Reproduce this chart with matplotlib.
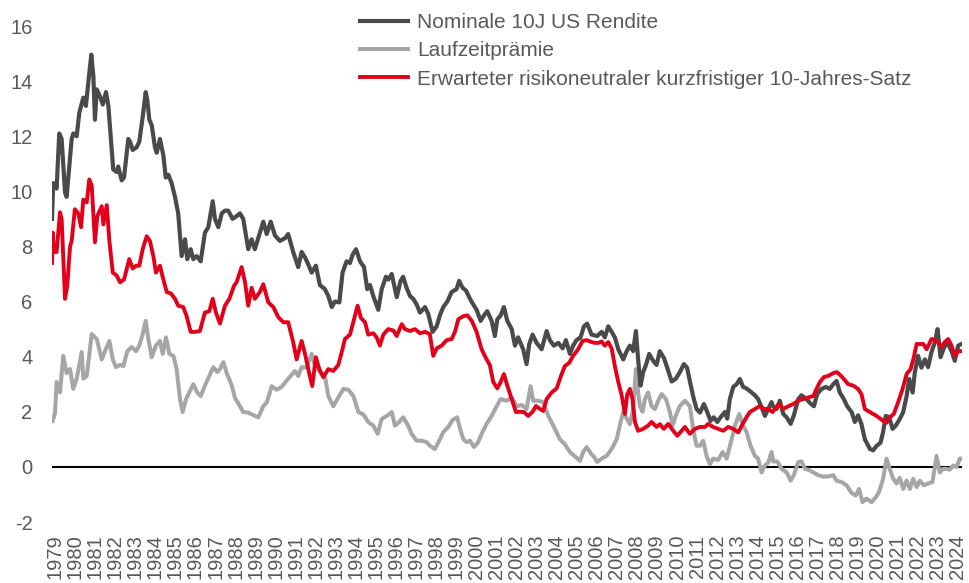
import matplotlib

matplotlib.use("Agg")
import matplotlib.pyplot as plt

plt.rcParams["font.family"] = ["Liberation Sans", "DejaVu Sans"]
plt.rcParams["axes.unicode_minus"] = False

TEXT = "#595959"
C_NOM, C_TP, C_RN = "#4a4a4a", "#a6a6a6", "#e2001a"

# nominal 10y yield (decimal year on the label axis, percent)
nom_t = [1978.85, 1978.91, 1979.08, 1979.21, 1979.33, 1979.50, 1979.58, 1979.83, 1979.91, 1980.08,
         1980.21, 1980.41, 1980.54, 1980.71, 1980.81, 1980.91, 1980.99, 1981.08, 1981.24, 1981.38,
         1981.54, 1981.66, 1981.90, 1982.07, 1982.15, 1982.32, 1982.44, 1982.65, 1982.74, 1982.87,
         1983.07, 1983.20, 1983.37, 1983.52, 1983.60, 1983.70, 1983.82, 1983.98, 1984.07, 1984.23,
         1984.40, 1984.52, 1984.65, 1984.81, 1984.98, 1985.14, 1985.31, 1985.48, 1985.59, 1985.76,
         1985.89, 1986.06, 1986.26, 1986.47, 1986.64, 1986.86, 1986.97, 1987.14, 1987.31, 1987.47,
         1987.63, 1987.85, 1988.05, 1988.22, 1988.38, 1988.63, 1988.80, 1988.96, 1989.21, 1989.38,
         1989.55, 1989.75, 1989.96, 1990.21, 1990.46, 1990.62, 1990.87, 1991.12, 1991.29, 1991.46,
         1991.62, 1991.79, 1992.00, 1992.20, 1992.45, 1992.62, 1992.79, 1992.95, 1993.17, 1993.33,
         1993.53, 1993.70, 1993.83, 1994.00, 1994.20, 1994.40, 1994.56, 1994.70, 1994.86, 1995.11,
         1995.28, 1995.49, 1995.61, 1995.78, 1996.03, 1996.22, 1996.35, 1996.52, 1996.69, 1996.85,
         1997.02, 1997.19, 1997.44, 1997.60, 1997.82, 1998.02, 1998.18, 1998.35, 1998.55, 1998.77,
         1999.01, 1999.14, 1999.31, 1999.48, 1999.68, 1999.84, 2000.01, 2000.21, 2000.38, 2000.54,
         2000.76, 2000.92, 2001.04, 2001.21, 2001.37, 2001.54, 2001.76, 2001.92, 2002.08, 2002.33,
         2002.50, 2002.63, 2002.80, 2003.00, 2003.25, 2003.50, 2003.66, 2003.86, 2004.08, 2004.30,
         2004.46, 2004.66, 2004.82, 2004.99, 2005.19, 2005.36, 2005.52, 2005.74, 2006.02, 2006.24,
         2006.40, 2006.57, 2006.74, 2006.90, 2007.07, 2007.32, 2007.49, 2007.65, 2007.81, 2007.95,
         2008.06, 2008.18, 2008.31, 2008.45, 2008.61, 2008.81, 2008.98, 2009.14, 2009.34, 2009.51,
         2009.73, 2009.94, 2010.14, 2010.34, 2010.50, 2010.64, 2010.80, 2010.97, 2011.14, 2011.34,
         2011.50, 2011.67, 2011.83, 2012.00, 2012.17, 2012.38, 2012.50, 2012.63, 2012.80, 2012.97,
         2013.13, 2013.29, 2013.46, 2013.71, 2013.88, 2014.04, 2014.21, 2014.38, 2014.54, 2014.71,
         2014.79, 2014.96, 2015.12, 2015.29, 2015.46, 2015.66, 2015.82, 2016.04, 2016.20, 2016.45,
         2016.65, 2016.82, 2016.98, 2017.20, 2017.42, 2017.61, 2017.78, 2017.95, 2018.11, 2018.31,
         2018.48, 2018.70, 2018.86, 2019.02, 2019.19, 2019.36, 2019.61, 2019.77, 2019.94, 2020.14,
         2020.27, 2020.40, 2020.57, 2020.74, 2020.90, 2021.10, 2021.27, 2021.44, 2021.57, 2021.74,
         2021.85, 2022.01, 2022.18, 2022.35, 2022.51, 2022.68, 2022.85, 2022.98, 2023.13, 2023.29,
         2023.46, 2023.68, 2023.84, 2024.01, 2024.18]
nom = [9.0, 10.3, 10.1, 12.1, 11.9, 9.96, 9.8, 11.9, 12.1, 12.0,
       12.85, 13.4, 13.1, 14.3, 14.96, 14.2, 12.6, 13.7, 13.45, 13.15,
       13.6, 13.1, 10.8, 10.7, 10.9, 10.4, 10.5, 11.9, 11.8, 11.5,
       11.6, 11.8, 12.7, 13.6, 13.3, 12.6, 12.4, 11.6, 11.4, 11.9,
       11.3, 10.5, 10.6, 10.3, 9.8, 9.2, 7.65, 8.26, 7.54, 7.9,
       7.54, 7.65, 7.46, 8.5, 8.7, 9.64, 9.0, 8.7, 9.2, 9.3,
       9.3, 9.0, 9.1, 9.2, 9.0, 7.9, 8.26, 7.9, 8.5, 8.9,
       8.45, 8.9, 8.4, 8.2, 8.3, 8.45, 7.8, 7.25, 7.8, 7.6,
       7.35, 7.05, 7.3, 6.6, 6.45, 6.2, 5.8, 6.0, 5.97, 7.05,
       7.46, 7.4, 7.7, 7.9, 7.46, 7.25, 6.45, 6.6, 6.2, 5.7,
       6.45, 6.9, 6.8, 7.0, 6.16, 6.75, 6.9, 6.5, 6.2, 6.1,
       5.9, 5.6, 5.8, 5.55, 4.9, 5.1, 5.5, 5.8, 6.0, 6.35,
       6.45, 6.75, 6.5, 6.4, 6.1, 5.9, 5.7, 5.3, 5.5, 5.65,
       5.3, 4.75, 5.35, 5.5, 5.8, 5.3, 5.0, 4.4, 4.7, 4.27,
       3.73, 4.45, 4.8, 4.5, 4.27, 4.93, 4.6, 4.4, 4.5, 4.3,
       4.6, 4.1, 4.4, 4.6, 4.7, 5.1, 5.2, 4.8, 4.75, 4.9,
       4.7, 5.1, 4.9, 4.7, 4.27, 3.9, 4.2, 4.4, 4.2, 4.93,
       3.9, 2.95, 3.44, 3.7, 4.1, 3.85, 3.7, 4.2, 3.96, 3.6,
       3.1, 3.2, 3.44, 3.73, 3.6, 3.1, 2.57, 2.1, 1.97, 2.28,
       2.0, 1.67, 1.8, 1.63, 1.8, 1.99, 1.75, 2.46, 2.9, 3.0,
       3.19, 2.9, 2.85, 2.7, 2.6, 2.46, 2.17, 1.85, 2.1, 2.35,
       2.2, 2.1, 2.4, 1.92, 1.8, 1.56, 1.87, 2.46, 2.6, 2.46,
       2.3, 2.2, 2.64, 2.83, 2.9, 2.83, 3.0, 3.12, 2.7, 2.46,
       2.2, 1.99, 1.63, 1.87, 1.55, 1.0, 0.65, 0.6, 0.76, 0.88,
       1.27, 1.85, 1.8, 1.38, 1.5, 1.74, 1.99, 2.57, 3.19, 2.7,
       3.44, 4.03, 3.6, 3.9, 3.62, 4.17, 4.53, 5.0, 3.98, 4.3,
       4.53, 4.2, 3.85, 4.4, 4.46]

# term premium
tp_t = [1978.88, 1979.00, 1979.08, 1979.25, 1979.41, 1979.58, 1979.75, 1979.91, 1980.08, 1980.33,
        1980.41, 1980.58, 1980.83, 1981.08, 1981.33, 1981.49, 1981.71, 1981.88, 1982.04, 1982.24,
        1982.41, 1982.60, 1982.82, 1983.04, 1983.20, 1983.37, 1983.52, 1983.65, 1983.82, 1984.03,
        1984.23, 1984.37, 1984.53, 1984.70, 1984.90, 1985.06, 1985.23, 1985.36, 1985.53, 1985.69,
        1985.89, 1986.09, 1986.26, 1986.47, 1986.69, 1986.89, 1987.09, 1987.22, 1987.39, 1987.56,
        1987.81, 1987.97, 1988.22, 1988.38, 1988.63, 1988.96, 1989.13, 1989.38, 1989.56, 1989.80,
        1990.04, 1990.29, 1990.61, 1990.96, 1991.12, 1991.29, 1991.54, 1991.79, 1991.95, 1992.20,
        1992.45, 1992.62, 1992.87, 1993.12, 1993.37, 1993.62, 1993.87, 1994.12, 1994.37, 1994.61,
        1994.86, 1995.08, 1995.28, 1995.53, 1995.78, 1995.94, 1996.11, 1996.35, 1996.60, 1996.77,
        1997.02, 1997.27, 1997.52, 1997.68, 1997.93, 1998.18, 1998.35, 1998.60, 1998.81, 1999.04,
        1999.18, 1999.35, 1999.51, 1999.68, 1999.88, 2000.09, 2000.26, 2000.51, 2000.76, 2001.01,
        2001.21, 2001.51, 2001.76, 2002.01, 2002.26, 2002.50, 2002.70, 2002.83, 2003.08, 2003.33,
        2003.58, 2003.83, 2004.16, 2004.41, 2004.66, 2004.91, 2005.16, 2005.33, 2005.49, 2005.74,
        2005.83, 2006.02, 2006.24, 2006.49, 2006.74, 2006.99, 2007.19, 2007.32, 2007.49, 2007.65,
        2007.81, 2007.95, 2008.06, 2008.15, 2008.28, 2008.40, 2008.56, 2008.73, 2008.90, 2009.06,
        2009.23, 2009.45, 2009.64, 2009.78, 2009.94, 2010.14, 2010.39, 2010.64, 2010.80, 2010.97,
        2011.14, 2011.30, 2011.47, 2011.64, 2011.80, 2012.05, 2012.27, 2012.47, 2012.72, 2012.89,
        2013.10, 2013.29, 2013.46, 2013.66, 2013.88, 2014.04, 2014.21, 2014.38, 2014.54, 2014.71,
        2014.79, 2014.99, 2015.21, 2015.46, 2015.66, 2015.82, 2016.04, 2016.20, 2016.37, 2016.53,
        2016.79, 2017.03, 2017.28, 2017.53, 2017.78, 2017.95, 2018.20, 2018.45, 2018.70, 2018.91,
        2019.07, 2019.24, 2019.44, 2019.69, 2019.91, 2020.07, 2020.27, 2020.44, 2020.60, 2020.77,
        2020.94, 2021.10, 2021.27, 2021.44, 2021.60, 2021.77, 2021.94, 2022.10, 2022.30, 2022.51,
        2022.73, 2022.93, 2023.09, 2023.26, 2023.43, 2023.59, 2023.76, 2023.93, 2024.09, 2024.18]
tp = [1.67, 1.95, 3.08, 2.7, 4.03, 3.4, 3.55, 2.83, 3.2, 4.17,
      3.2, 3.3, 4.82, 4.64, 3.9, 4.2, 4.57, 3.9, 3.62, 3.7,
      3.66, 4.2, 4.35, 4.2, 4.4, 4.82, 5.3, 4.64, 3.98, 4.4,
      4.57, 4.1, 4.7, 4.1, 4.03, 3.55, 2.46, 1.99, 2.46, 2.7,
      3.0, 2.7, 2.57, 2.95, 3.3, 3.62, 3.44, 3.55, 3.8, 3.4,
      2.95, 2.5, 2.2, 1.99, 1.97, 1.85, 1.8, 2.2, 2.35, 2.93,
      2.8, 2.9, 3.19, 3.48, 3.3, 3.62, 3.6, 4.1, 3.7, 3.44,
      3.3, 2.57, 2.2, 2.52, 2.83, 2.8, 2.57, 1.99, 1.9, 1.63,
      1.5, 1.2, 1.74, 1.85, 1.99, 1.5, 1.6, 1.8, 1.5, 1.2,
      0.95, 0.95, 0.9, 0.77, 0.65, 1.0, 1.26, 1.45, 1.7, 1.8,
      1.4, 1.0, 0.9, 0.95, 0.72, 0.9, 1.2, 1.56, 1.85, 2.2,
      2.46, 2.4, 2.52, 2.2, 2.25, 2.1, 2.93, 2.4, 2.4, 2.35,
      1.85, 1.5, 1.0, 0.82, 0.54, 0.38, 0.22, 0.55, 0.72, 0.45,
      0.4, 0.18, 0.3, 0.4, 0.65, 1.0, 1.63, 2.0, 1.75, 1.55,
      2.1, 3.55, 2.7, 2.2, 2.0, 2.46, 2.7, 2.2, 2.1, 2.4,
      2.64, 2.46, 1.99, 1.5, 1.87, 2.21, 2.4, 2.2, 1.38, 0.77,
      0.77, 0.95, 0.4, 0.1, 0.3, 0.25, 0.54, 0.3, 1.0, 1.5,
      1.92, 1.5, 1.27, 0.77, 0.4, 0.3, -0.2, 0.05, 0.15, 0.54,
      0.2, 0.2, -0.07, -0.2, -0.5, -0.3, 0.18, 0.2, -0.07, -0.1,
      -0.2, -0.3, -0.35, -0.35, -0.3, -0.5, -0.55, -0.67, -0.95, -1.04,
      -0.8, -1.28, -1.15, -1.28, -1.1, -0.9, -0.43, 0.3, -0.07, -0.43,
      -0.6, -0.4, -0.8, -0.5, -0.8, -0.43, -0.73, -0.5, -0.67, -0.6,
      -0.55, 0.4, -0.2, -0.07, -0.07, -0.1, 0.05, 0.0, 0.3, 0.3]

# expected risk-neutral short rate
rn_t = [1978.85, 1978.89, 1978.95, 1979.08, 1979.25, 1979.33, 1979.50, 1979.61, 1979.75, 1979.83,
        1979.99, 1980.16, 1980.30, 1980.41, 1980.58, 1980.71, 1980.83, 1980.99, 1981.11, 1981.33,
        1981.41, 1981.58, 1981.71, 1981.88, 1982.07, 1982.24, 1982.44, 1982.70, 1982.87, 1983.04,
        1983.20, 1983.37, 1983.57, 1983.73, 1983.90, 1984.03, 1984.23, 1984.40, 1984.57, 1984.77,
        1984.98, 1985.14, 1985.39, 1985.56, 1985.76, 1985.97, 1986.22, 1986.47, 1986.69, 1986.86,
        1987.02, 1987.22, 1987.47, 1987.69, 1987.92, 1988.05, 1988.30, 1988.47, 1988.63, 1988.80,
        1988.96, 1989.21, 1989.38, 1989.63, 1989.88, 1990.13, 1990.38, 1990.62, 1990.87, 1991.04,
        1991.29, 1991.46, 1991.62, 1991.82, 1992.00, 1992.17, 1992.37, 1992.62, 1992.87, 1993.12,
        1993.29, 1993.45, 1993.70, 1993.90, 1994.08, 1994.25, 1994.45, 1994.61, 1994.86, 1995.03,
        1995.19, 1995.36, 1995.61, 1995.86, 1996.03, 1996.28, 1996.44, 1996.69, 1996.94, 1997.19,
        1997.44, 1997.68, 1997.85, 1998.02, 1998.27, 1998.52, 1998.77, 1998.93, 1999.10, 1999.35,
        1999.55, 1999.77, 2000.01, 2000.26, 2000.51, 2000.67, 2000.84, 2001.04, 2001.21, 2001.37,
        2001.54, 2001.76, 2001.97, 2002.17, 2002.37, 2002.58, 2002.80, 2002.97, 2003.17, 2003.33,
        2003.50, 2003.75, 2004.00, 2004.25, 2004.41, 2004.63, 2004.82, 2005.07, 2005.29, 2005.49,
        2005.74, 2005.90, 2006.07, 2006.24, 2006.40, 2006.57, 2006.74, 2006.90, 2007.07, 2007.24,
        2007.40, 2007.52, 2007.65, 2007.78, 2007.90, 2008.06, 2008.31, 2008.56, 2008.73, 2008.98,
        2009.14, 2009.34, 2009.56, 2009.81, 2010.01, 2010.23, 2010.39, 2010.64, 2010.89, 2011.14,
        2011.39, 2011.55, 2011.80, 2012.05, 2012.30, 2012.55, 2012.80, 2013.05, 2013.27, 2013.46,
        2013.63, 2013.88, 2014.13, 2014.33, 2014.54, 2014.76, 2014.87, 2015.09, 2015.29, 2015.54,
        2015.79, 2016.04, 2016.29, 2016.53, 2016.79, 2016.95, 2017.12, 2017.32, 2017.53, 2017.78,
        2017.95, 2018.11, 2018.31, 2018.53, 2018.78, 2019.02, 2019.19, 2019.36, 2019.61, 2019.94,
        2020.27, 2020.44, 2020.60, 2020.80, 2021.02, 2021.24, 2021.44, 2021.64, 2021.80, 2021.94,
        2022.10, 2022.27, 2022.44, 2022.68, 2022.85, 2023.01, 2023.18, 2023.34, 2023.51, 2023.68,
        2023.84, 2024.01, 2024.18]
rn = [7.4, 8.5, 7.8, 7.8, 9.24, 9.0, 6.1, 6.57, 8.0, 8.2,
      9.35, 9.2, 8.7, 9.7, 9.6, 10.43, 10.2, 8.15, 9.1, 9.46,
      8.8, 9.5, 8.2, 7.05, 6.95, 6.7, 6.8, 7.54, 7.2, 7.3,
      7.3, 7.9, 8.37, 8.2, 7.65, 7.05, 7.3, 6.8, 6.34, 6.3,
      6.1, 5.85, 5.8, 5.47, 4.9, 4.9, 4.93, 5.6, 5.65, 6.1,
      5.6, 5.2, 5.85, 6.1, 6.57, 6.7, 7.25, 6.7, 5.85, 6.5,
      6.1, 6.35, 6.63, 5.97, 5.8, 5.43, 5.25, 5.25, 4.53, 3.9,
      4.57, 4.1, 3.55, 2.93, 3.98, 3.55, 3.26, 3.55, 3.48, 3.7,
      4.17, 4.64, 4.8, 5.36, 5.85, 5.4, 5.25, 4.8, 4.85, 4.7,
      4.4, 4.8, 5.0, 4.95, 4.75, 5.18, 5.0, 4.93, 5.0, 4.85,
      4.9, 4.82, 4.03, 4.3, 4.4, 4.6, 4.64, 4.9, 5.36, 5.47,
      5.5, 5.3, 4.9, 4.27, 3.9, 3.7, 3.08, 2.85, 3.08, 3.37,
      2.95, 2.46, 1.99, 2.0, 1.99, 1.85, 2.0, 2.21, 2.1, 2.03,
      2.46, 2.7, 2.85, 3.37, 3.66, 3.78, 4.03, 4.27, 4.57, 4.6,
      4.53, 4.5, 4.5, 4.55, 4.4, 4.53, 4.3, 3.66, 3.08, 2.6,
      1.92, 2.64, 2.83, 2.46, 1.63, 1.31, 1.38, 1.5, 1.63, 1.45,
      1.55, 1.38, 1.56, 1.31, 1.13, 1.31, 1.45, 1.2, 1.38, 1.45,
      1.45, 1.56, 1.45, 1.38, 1.31, 1.45, 1.38, 1.25, 1.56, 1.8,
      1.99, 2.1, 2.21, 2.1, 2.1, 1.99, 2.1, 2.28, 2.1, 2.2,
      2.28, 2.4, 2.46, 2.52, 2.57, 2.83, 3.08, 3.26, 3.3, 3.4,
      3.44, 3.35, 3.19, 3.0, 2.95, 2.83, 2.64, 2.1, 1.99, 1.85,
      1.67, 1.6, 1.8, 1.92, 2.35, 2.83, 3.37, 3.55, 3.98, 4.46,
      4.46, 4.46, 4.27, 4.64, 4.6, 4.53, 4.35, 4.53, 4.64, 4.4,
      4.03, 4.2, 4.2]

years = list(range(1979, 2025))

fig = plt.figure(figsize=(9.69, 5.83), dpi=100)
ax = fig.add_axes([52 / 969, 1 - 522 / 583, 910 / 969, 496 / 583])

l_tp, = ax.plot(tp_t, tp, color=C_TP, lw=2.9, solid_joinstyle="round")
l_nom, = ax.plot(nom_t, nom, color=C_NOM, lw=3.0, solid_joinstyle="round")
l_rn, = ax.plot(rn_t, rn, color=C_RN, lw=2.8, solid_joinstyle="round")
ax.axhline(0, color="black", lw=1.5, zorder=0)

ax.set_xlim(1978.85, 2024.2)
ax.set_ylim(-2, 16)
ax.set_yticks(range(-2, 17, 2))
ax.set_xticks(years)
ax.set_xticklabels([str(y) for y in years], rotation=90)
ax.tick_params(axis="both", length=0, labelsize=14.5, labelcolor=TEXT)
ax.tick_params(axis="y", pad=14)
ax.tick_params(axis="x", pad=9)
for s in ax.spines.values():
    s.set_visible(False)

fig.legend([l_nom, l_tp, l_rn],
           ["Nominale 10J US Rendite", "Laufzeitprämie",
            "Erwarteter risikoneutraler kurzfristiger 10-Jahres-Satz"],
           loc="upper left", bbox_to_anchor=(360 / 969, 1 - 13 / 583),
           frameon=False, fontsize=15, labelcolor=TEXT, handlelength=2.3,
           handletextpad=0.45, labelspacing=0.45, borderpad=0, borderaxespad=0)

fig.savefig("out.png", dpi=100)
